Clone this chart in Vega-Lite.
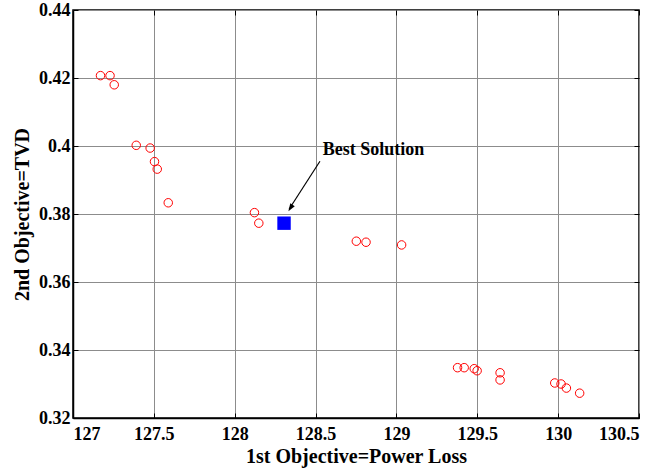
{
  "$schema": "https://vega.github.io/schema/vega-lite/v6.json",
  "autosize": {"type": "none"},
  "width": 566,
  "height": 408,
  "padding": {"left": 73, "top": 10, "right": 24, "bottom": 50},
  "background": "white",
  "config": {
    "view": {"stroke": "black", "strokeWidth": 1.5},
    "font": "Liberation Serif",
    "axis": {
      "labelFont": "Liberation Serif",
      "labelFontWeight": "bold",
      "labelFontSize": 18,
      "labelColor": "black",
      "titleFont": "Liberation Serif",
      "titleFontWeight": "bold",
      "titleFontSize": 20,
      "titleColor": "black",
      "domainColor": "black",
      "domainWidth": 1.5,
      "tickColor": "black",
      "tickWidth": 1,
      "tickSize": -5,
      "gridColor": "#8c8c8c",
      "gridWidth": 1,
      "gridOpacity": 1
    }
  },
  "datasets": {
    "pareto": [
      {"loss": 127.170, "tvd": 0.4207},
      {"loss": 127.229, "tvd": 0.4207},
      {"loss": 127.255, "tvd": 0.4180},
      {"loss": 127.391, "tvd": 0.4002},
      {"loss": 127.477, "tvd": 0.3994},
      {"loss": 127.504, "tvd": 0.3954},
      {"loss": 127.521, "tvd": 0.3932},
      {"loss": 127.589, "tvd": 0.3833},
      {"loss": 128.122, "tvd": 0.3804},
      {"loss": 128.149, "tvd": 0.3773},
      {"loss": 128.752, "tvd": 0.3720},
      {"loss": 128.812, "tvd": 0.3717},
      {"loss": 129.032, "tvd": 0.3709},
      {"loss": 129.378, "tvd": 0.3348},
      {"loss": 129.419, "tvd": 0.3348},
      {"loss": 129.481, "tvd": 0.3345},
      {"loss": 129.499, "tvd": 0.3339},
      {"loss": 129.641, "tvd": 0.3333},
      {"loss": 129.641, "tvd": 0.3312},
      {"loss": 129.979, "tvd": 0.3303},
      {"loss": 130.018, "tvd": 0.3300},
      {"loss": 130.051, "tvd": 0.3288},
      {"loss": 130.133, "tvd": 0.3273}
    ],
    "best": [{"loss": 128.305, "tvd": 0.3773}],
    "arrow": [{"x1": 128.527, "y1": 0.3955, "x2": 128.336, "y2": 0.3814, "xt": 128.332, "yt": 0.3808}],
    "label": [{"loss": 128.544, "tvd": 0.3989, "text": "Best Solution"}]
  },
  "resolve": {"axis": {"x": "independent", "y": "independent"}},
  "layer": [
    {
      "data": {"name": "pareto"},
      "mark": {"type": "point", "shape": "circle", "filled": false, "color": "#ff0000", "size": 72, "strokeWidth": 1, "opacity": 1},
      "encoding": {
        "x": {
          "field": "loss", "type": "quantitative",
          "scale": {"domain": [127, 130.5], "nice": false, "zero": false},
          "axis": {
            "title": "1st Objective=Power Loss",
            "values": [127, 127.5, 128, 128.5, 129, 129.5, 130, 130.5],
            "format": "~g",
            "labelPadding": 12,
            "titlePadding": 3,
            "grid": true
          }
        },
        "y": {
          "field": "tvd", "type": "quantitative",
          "scale": {"domain": [0.32, 0.44], "nice": false, "zero": false},
          "axis": {
            "title": "2nd Objective=TVD",
            "values": [0.32, 0.34, 0.36, 0.38, 0.4, 0.42, 0.44],
            "format": "~g",
            "labelPadding": 8,
            "titlePadding": 6,
            "grid": true
          }
        }
      }
    },
    {
      "data": {"name": "best"},
      "mark": {"type": "point", "shape": "square", "filled": true, "color": "#0000ff", "size": 180, "opacity": 1},
      "encoding": {
        "x": {"field": "loss", "type": "quantitative",
          "axis": {"orient": "top", "labels": false, "title": null, "domain": false, "grid": false,
            "values": [127, 127.5, 128, 128.5, 129, 129.5, 130, 130.5]}},
        "y": {"field": "tvd", "type": "quantitative",
          "axis": {"orient": "right", "labels": false, "title": null, "domain": false, "grid": false,
            "values": [0.32, 0.34, 0.36, 0.38, 0.4, 0.42, 0.44]}}
      }
    },
    {
      "data": {"name": "arrow"},
      "mark": {"type": "rule", "color": "black", "strokeWidth": 1.2},
      "encoding": {
        "x": {"field": "x1", "type": "quantitative", "axis": null},
        "y": {"field": "y1", "type": "quantitative", "axis": null},
        "x2": {"field": "x2"},
        "y2": {"field": "y2"}
      }
    },
    {
      "data": {"name": "arrow"},
      "mark": {"type": "point", "shape": "M0,0L-0.75,2.2L0.75,2.2Z", "filled": true, "color": "black", "size": 49, "angle": 212.4, "opacity": 1},
      "encoding": {
        "x": {"field": "xt", "type": "quantitative", "axis": null},
        "y": {"field": "yt", "type": "quantitative", "axis": null}
      }
    },
    {
      "data": {"name": "label"},
      "mark": {"type": "text", "align": "left", "baseline": "middle", "font": "Liberation Serif", "fontWeight": "bold", "fontSize": 18, "color": "black"},
      "encoding": {
        "x": {"field": "loss", "type": "quantitative", "axis": null},
        "y": {"field": "tvd", "type": "quantitative", "axis": null},
        "text": {"field": "text"}
      }
    }
  ]
}
